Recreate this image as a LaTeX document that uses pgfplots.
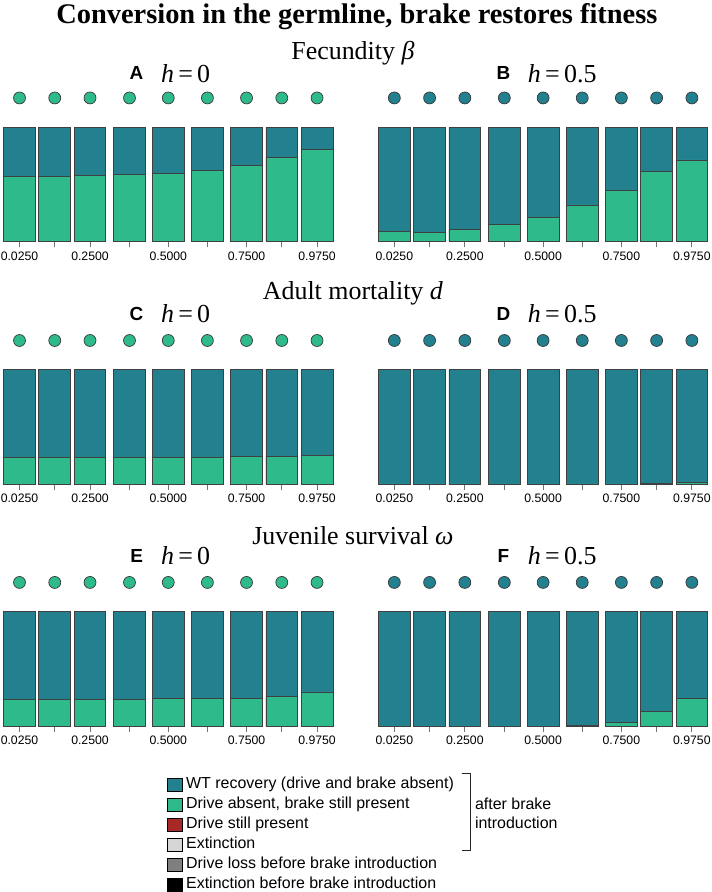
\documentclass[border=0pt]{standalone}
\usepackage{fontspec}
\setmainfont{Liberation Serif}
\setsansfont{Liberation Sans}
\usepackage{pgfplots}
\usepackage{pgfplotstable}
\pgfplotsset{compat=1.18}

\definecolor{cteal}{HTML}{22808F}
\definecolor{cgreen}{HTML}{2EBA8A}
\definecolor{cred}{HTML}{A82828}
\definecolor{clgray}{HTML}{D6D6D6}
\definecolor{cgray}{HTML}{7F7F7F}

% green = drive absent, brake present; teal = WT recovery
\pgfplotstableread{
x     green  teal
0     0.570  0.430
1     0.570  0.430
2     0.579  0.421
3.12  0.588  0.412
4.22  0.596  0.404
5.33  0.622  0.378
6.44  0.666  0.334
7.44  0.736  0.264
8.44  0.806  0.194
}\tabA
\pgfplotstableread{
x     green  teal
0     0.087  0.913
1     0.081  0.919
2     0.107  0.893
3.12  0.148  0.852
4.22  0.212  0.788
5.33  0.319  0.681
6.44  0.449  0.551
7.44  0.612  0.388
8.44  0.713  0.287
}\tabB
\pgfplotstableread{
x     green  teal
0     0.232  0.768
1     0.229  0.771
2     0.232  0.768
3.12  0.235  0.765
4.22  0.235  0.765
5.33  0.235  0.765
6.44  0.241  0.759
7.44  0.243  0.757
8.44  0.249  0.751
}\tabC
\pgfplotstableread{
x     green  teal
0     0.000  1.000
1     0.000  1.000
2     0.000  1.000
3.12  0.000  1.000
4.22  0.000  1.000
5.33  0.000  1.000
6.44  0.000  1.000
7.44  0.004  0.996
8.44  0.012  0.988
}\tabD
\pgfplotstableread{
x     green  teal
0     0.233  0.767
1     0.233  0.767
2     0.235  0.765
3.12  0.235  0.765
4.22  0.238  0.762
5.33  0.238  0.762
6.44  0.244  0.756
7.44  0.256  0.744
8.44  0.297  0.703
}\tabE
\pgfplotstableread{
x     green  teal
0     0.000  1.000
1     0.000  1.000
2     0.000  1.000
3.12  0.000  1.000
4.22  0.000  1.000
5.33  0.006  0.994
6.44  0.029  0.971
7.44  0.125  0.875
8.44  0.244  0.756
}\tabF
\pgfplotstableread{
x     y
0     1.255
1     1.255
2     1.255
3.12  1.255
4.22  1.255
5.33  1.255
6.44  1.255
7.44  1.255
8.44  1.255
}\tabDots

\pgfplotsset{
  panel/.style={
    scale only axis, width=331pt, height=114.7pt,
    xmin=-0.46, xmax=8.90, ymin=0, ymax=1,
    axis x line*=bottom, axis y line=none,
    x axis line style={draw=none},
    xtick={0,1,2,3.12,4.22,5.33,6.44,7.44,8.44},
    xticklabels={0.0250,,0.2500,,0.5000,,0.7500,,0.9750},
    xtick align=outside, major tick length=6pt,
    tick style={black!55, line width=0.8pt},
    xticklabel style={font=\sffamily\fontsize{12.3}{12.3}\selectfont, inner xsep=0pt, inner ysep=4pt},
    clip=false,
  },
  barstyle/.style={ybar, bar width=0.9, bar shift=0pt, draw=black!75, line width=0.8pt, forget plot},
  dotstyle/.style={only marks, mark=*, mark size=6pt, forget plot,
    mark options={fill=#1, draw=black!78, line width=0.7pt}},
}

\newcommand{\panelbars}[2]{%
  \addplot[barstyle, fill=cteal] table[x=x, y expr=\thisrow{green}+\thisrow{teal}] {#1};
  \addplot[barstyle, fill=cgreen] table[x=x, y=green] {#1};
  \addplot[dotstyle=#2] table[x=x, y=y] {\tabDots};
}

\begin{document}
\begin{tikzpicture}[x=1pt, y=1pt]
\path (0,0) rectangle (714,892);

\node at (358,877) {\fontsize{28.5}{28.5}\selectfont\bfseries Conversion in the germline, brake restores fitness};

% row titles
\node at (354,840) {\fontsize{26}{26}\selectfont Fecundity \textit{β}};
\node at (354,599) {\fontsize{26}{26}\selectfont Adult mortality \textit{d}};
\node at (354,356) {\fontsize{26}{26}\selectfont Juvenile survival \textit{ω}};

% panel labels
\foreach \yy/\la/\lb in {820/A/B, 579/C/D, 336/E/F} {
  \node at (137,\yy) {\sffamily\bfseries\fontsize{19}{19}\selectfont \la};
  \node[anchor=west] at (158,\yy) {\fontsize{26}{26}\selectfont\textit{h}\,=\,0};
  \node at (505,\yy) {\sffamily\bfseries\fontsize{19}{19}\selectfont \lb};
  \node[anchor=west] at (526,\yy) {\fontsize{26}{26}\selectfont\textit{h}\,=\,0.5};
}

\begin{axis}[panel, at={(3.3pt,651.3pt)}, anchor=south west]
\panelbars{\tabA}{cgreen}
\end{axis}
\begin{axis}[panel, at={(379.3pt,651.3pt)}, anchor=south west]
\panelbars{\tabB}{cteal}
\end{axis}
\begin{axis}[panel, at={(3.3pt,408pt)}, anchor=south west]
\panelbars{\tabC}{cgreen}
\end{axis}
\begin{axis}[panel, at={(379.3pt,408pt)}, anchor=south west]
\panelbars{\tabD}{cteal}
\end{axis}
\begin{axis}[panel, at={(3.3pt,165.3pt)}, anchor=south west,
  legend style={at={(0.495,-0.448)}, anchor=north west, draw=none, fill=none,
    font=\sffamily\fontsize{16}{16}\selectfont, row sep=5pt, inner sep=0pt,
    nodes={inner xsep=4pt, inner ysep=0pt, text height=11.5pt, text depth=3.5pt},
    cells={anchor=west}},
  legend image code/.code={\fill[#1] (0pt,-6.5pt) rectangle (15pt,6.5pt);},
]
\panelbars{\tabE}{cgreen}
\addlegendimage{fill=cteal}
\addlegendentry{WT recovery (drive and brake absent)}
\addlegendimage{fill=cgreen}
\addlegendentry{Drive absent, brake still present}
\addlegendimage{fill=cred}
\addlegendentry{Drive still present}
\addlegendimage{fill=clgray}
\addlegendentry{Extinction}
\addlegendimage{fill=cgray}
\addlegendentry{Drive loss before brake introduction}
\addlegendimage{fill=black}
\addlegendentry{Extinction before brake introduction}
\end{axis}
\begin{axis}[panel, at={(379.3pt,165.3pt)}, anchor=south west]
\panelbars{\tabF}{cteal}
\end{axis}

% bracket for "after brake introduction"
\draw[black!85, line width=0.9pt] (463,118) -- (472,118) -- (472,40) -- (463,40);
\node[anchor=west, align=left, font=\sffamily\fontsize{16}{19}\selectfont] at (473,78) {after brake\\introduction};
\end{tikzpicture}
\end{document}
